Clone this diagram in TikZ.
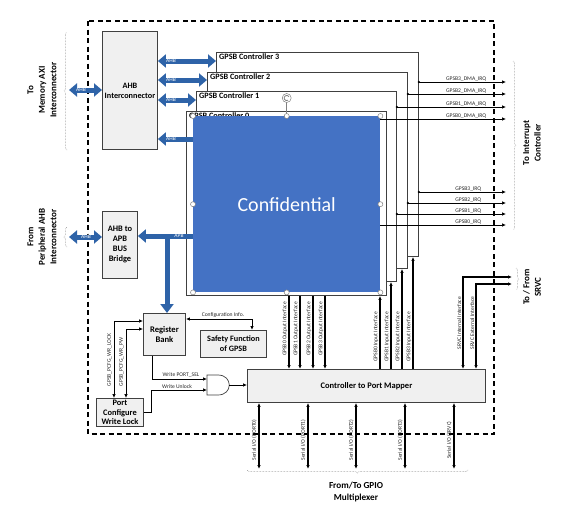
\documentclass[tikz,border=0pt]{standalone}
\usepackage{fontspec}
\setmainfont{Carlito}
\usetikzlibrary{arrows.meta,decorations.pathreplacing,calc}
\definecolor{busblue}{HTML}{2E63A8}
\definecolor{confblue}{HTML}{4472C4}
\definecolor{boxfill}{HTML}{F0F0F0}
\definecolor{boxline}{HTML}{404040}
\begin{document}
\begin{tikzpicture}[x=1pt,y=-1pt,
  box/.style={draw=boxline, fill=boxfill, line width=0.9pt, align=center, inner sep=0.5pt,
    font=\bfseries\fontsize{8.2}{10}\selectfont, anchor=north west},
  ctrl/.style={draw=boxline, fill=white, line width=0.9pt, anchor=north west, inner sep=0pt},
  ctitle/.style={anchor=north west, inner sep=0pt, font=\bfseries\fontsize{8.2}{9}\selectfont},
  bus/.style={draw=busblue, line width=5pt, {Triangle[width=13pt,length=8pt]}-{Triangle[width=13pt,length=8pt]}},
  busone/.style={draw=busblue, line width=5pt, -{Triangle[width=13pt,length=8pt]}},
  buslbl/.style={text=white, font=\fontsize{5.5}{6}\selectfont, inner sep=0pt},
  wire/.style={line width=0.7pt, -{Latex[length=4pt,width=3.5pt]}},
  wiretwo/.style={line width=0.7pt, {Latex[length=4pt,width=3.5pt]}-{Latex[length=4pt,width=3.5pt]}},
  sig/.style={font=\fontsize{5.6}{6}\selectfont, inner sep=0.6pt, text=black!85},
  vsig/.style={sig, rotate=90, anchor=south},
  sidetxt/.style={font=\bfseries\fontsize{9}{11.5}\selectfont, align=center, rotate=90},
  gbrace/.style={decorate, decoration={brace, amplitude=3pt}, draw=gray, densely dotted, line width=0.5pt},
  handle/.style={draw=gray, fill=white, line width=0.5pt}
]
\useasboundingbox (0,0) rectangle (568,514);

% outer dashed frame
\draw[line width=1.4pt, dash pattern=on 5pt off 3.5pt] (88,21) rectangle (494,434);

% controllers
\node[ctrl, minimum width=202pt, minimum height=204pt] (c3) at (216,52) {};
\node[ctitle] (t3) at (219,54) {GPSB Controller 3};
\node[ctrl, minimum width=200pt, minimum height=196pt] (c2) at (207,72) {};
\node[ctitle] (t2) at (210,74) {GPSB Controller 2};
\node[ctrl, minimum width=200pt, minimum height=190pt] (c1) at (196,91) {};
\node[ctitle] (t1) at (199,93) {GPSB Controller 1};
\node[ctrl, minimum width=200pt, minimum height=184pt] (c0) at (186,111) {};
\node[ctitle] (t0) at (189,112.5) {GPSB Controller 0};
\node[fill=confblue, minimum width=187pt, minimum height=176pt, anchor=north west, inner sep=0pt,
      text=white, font=\fontsize{20}{24}\selectfont] (conf) at (193,116) {Confidential};

% selection handles
\draw[gray, line width=0.5pt] (conf.north) -- ++(0,-18) coordinate (rot);
\draw[handle] (rot) circle (4.5pt);
\draw[gray, line width=0.8pt] (rot) ++(60:2.6) arc (60:330:2.6);
\foreach \a in {north west, north, north east, west, east, south west, south, south east}
  \draw[handle] (conf.\a) circle (2.5pt);

% boxes
\node[box, minimum width=55pt, minimum height=118pt] (ahbic) at (102,31) {AHB\\Interconnector};
\node[box, minimum width=35pt, minimum height=67pt, font=\bfseries\fontsize{8.4}{10}\selectfont] (bridge) at (102,211) {AHB to\\APB\\BUS\\Bridge};
\node[box, minimum width=42pt, minimum height=42pt, font=\bfseries\fontsize{8.6}{10}\selectfont] (regbank) at (143,313) {Register\\Bank};
\node[box, minimum width=66pt, minimum height=27pt] (safety) at (200,330) {Safety Function\\of GPSB};
\node[box, minimum width=47pt, minimum height=28pt, font=\bfseries\fontsize{8.4}{9.6}\selectfont, inner sep=0pt] (pcwl) at (96,398) {Port\\Configure\\Write Lock};
\node[box, minimum width=238pt, minimum height=33pt, font=\bfseries\fontsize{8.5}{10}\selectfont] (mapper) at (247,369) {Controller to Port Mapper};

% side texts and braces
\node[sidetxt] (memtxt) at (42,90) {To\\Memory AXI\\Interconnector};
\node[sidetxt] (pertxt) at (42,237) {From\\Peripheral AHB\\Interconnector};
\node[sidetxt] (irqtxt) at (532,143) {To Interrupt\\Controller};
\node[sidetxt] (srvtxt) at (532,287) {To / From\\SRVC};
\node[font=\bfseries\fontsize{9.2}{11.5}\selectfont, align=center] (gpiotxt) at (356,492) {From/To GPIO\\Multiplexer};
\draw[gbrace] (67,150) -- (67,32);
\draw[gbrace] (67,247) -- (67,227);
\draw[gbrace] (513,61) -- (513,230);
\draw[gbrace] (516,268) -- (516,290);
\draw[gbrace] (468,470) -- (247,470);

% AHB buses
\coordinate (memL) at (69,90);
\coordinate (perL) at (69,237);
\draw[bus] (memL) -- (ahbic.west |- memL);
\node[buslbl] (l1) at (81,90) {AHB};
\draw[bus] (perL) -- (bridge.west |- perL);
\node[buslbl] (l2) at (86,237) {AHB};
\draw[bus] (ahbic.east |- 0,61) -- (c3.west |- 0,61);
\node[buslbl] (l3) at (171,61) {AHB};
\draw[bus] (ahbic.east |- 0,80) -- (c2.west |- 0,80);
\node[buslbl] (l4) at (171,80) {AHB};
\draw[bus] (ahbic.east |- 0,100) -- (c1.west |- 0,100);
\node[buslbl] (l5) at (171,100) {AHB};
\draw[busone] (conf.west |- 0,139) -- (ahbic.east |- 0,139);
\node[buslbl] (l6) at (171,139) {AHB};
\draw[busone] (conf.west |- 0,236) -- (bridge.east |- 0,236);
\node[buslbl] (l7) at (179,236) {APB};
\draw[draw=busblue, line width=5pt, -{Triangle[width=13pt,length=9pt]}] (167,236) -- (regbank.north -| 167,0);

% IRQ lines
\foreach \yy/\bx/\lab in {82/c3/GPSB3, 94/c2/GPSB2, 107/c1/GPSB1} {
  \draw[wire] (\bx.east |- 0,\yy) -- (506,\yy);
  \fill (\bx.east |- 0,\yy) circle (1.3pt);
  \node[sig, anchor=south east] at (487,\yy) {\lab\_DMA\_IRQ};
}
\draw[wire] (conf.east |- 0,119) -- (506,119);
\node[sig, anchor=south east] at (487,119) {GPSB0\_DMA\_IRQ};
\foreach \yy/\bx/\lab in {192/c3/GPSB3, 203/c2/GPSB2, 214/c1/GPSB1} {
  \draw[wire] (\bx.east |- 0,\yy) -- (506,\yy);
  \fill (\bx.east |- 0,\yy) circle (1.3pt);
  \node[sig, anchor=south east] at (482,\yy) {\lab\_IRQ};
}
\draw[wire] (conf.east |- 0,225) -- (506,225);
\node[sig, anchor=south east] at (482,225) {GPSB0\_IRQ};

% output interfaces
\foreach \xx/\n in {289/0, 300/1, 313/2, 325/3} {
  \draw[wire, line width=1.1pt] (c0.south -| \xx,0) -- (mapper.north -| \xx,0);
  \node[vsig] at (\xx-1,329) {GPSB\n\ Output Interface};
}
% input interfaces
\draw[wire, line width=1.1pt] (mapper.north -| 380,0) -- (c0.south -| 380,0);
\draw[wire, line width=1.1pt] (mapper.north -| 391,0) -- (c1.south -| 391,0);
\draw[wire, line width=1.1pt] (mapper.north -| 402,0) -- (c2.south -| 402,0);
\draw[wire, line width=1.1pt] (mapper.north -| 413,0) -- (c3.south -| 413,0);
\foreach \xx/\n in {380/0, 391/1, 402/2, 413/3}
  \node[vsig] at (\xx-1,337) {GPSB\n\ Input Interface};

% SRVC
\coordinate (srvA) at (512,277);
\coordinate (srvB) at (512,284);
\draw[wiretwo, line width=1.1pt] (mapper.north -| 463,0) |- (srvA);
\draw[wiretwo, line width=1.1pt] (mapper.north -| 476,0) |- (srvB);
\node[vsig] at (462,323) {SRVC Internal Interface};
\node[vsig] at (475,323) {SRVC External Interface};

% serial IO
\foreach \xx/\lab in {259/PORT0, 308/PORT1, 356/PORT2, 405/PORT3, 454/SRVC} {
  \coordinate (sio\lab) at (\xx,469);
  \draw[wiretwo, line width=1.1pt] (mapper.south -| \xx,0) -- (sio\lab);
  \node[vsig] at (\xx-1.5,440) {Serial I/O (\lab)};
}

% register bank signals
\draw[wiretwo] (regbank.west |- 0,321) -| (pcwl.north -| 114,0);
\draw[wiretwo] (regbank.west |- 0,329) -| (pcwl.north -| 126,0);
\node[vsig] at (112.5,360) {GPSB\_PCFG\_WR\_LOCK};
\node[vsig] at (124.5,362) {GPSB\_PCFG\_WR\_PW};
\draw[wiretwo, line width=0.9pt] (regbank.east |- 0,319) -| (safety.north -| 252,0);
\node[sig, anchor=south] at (223,318) {Configuration Info.};

% AND gate
\draw[line width=0.7pt, draw=boxline, fill=white] (207,375) -- (218,375) .. controls (233,375) and (233,395) .. (218,395) -- (207,395) -- cycle;
\coordinate (andA) at (207,379);
\coordinate (andB) at (207,390);
\coordinate (andO) at (229.3,385);
\draw[wire] (regbank.south -| 152,0) |- (andA);
\node[sig, anchor=south] at (181,378) {Write PORT\_SEL};
\draw[wire] (pcwl.east |- 0,412) -- ++(7,0) |- (andB);
\node[sig, anchor=south] at (177,389) {Write Unlock};
\draw[wire] (andO) -- (mapper.west |- andO);

\end{tikzpicture}
\end{document}
